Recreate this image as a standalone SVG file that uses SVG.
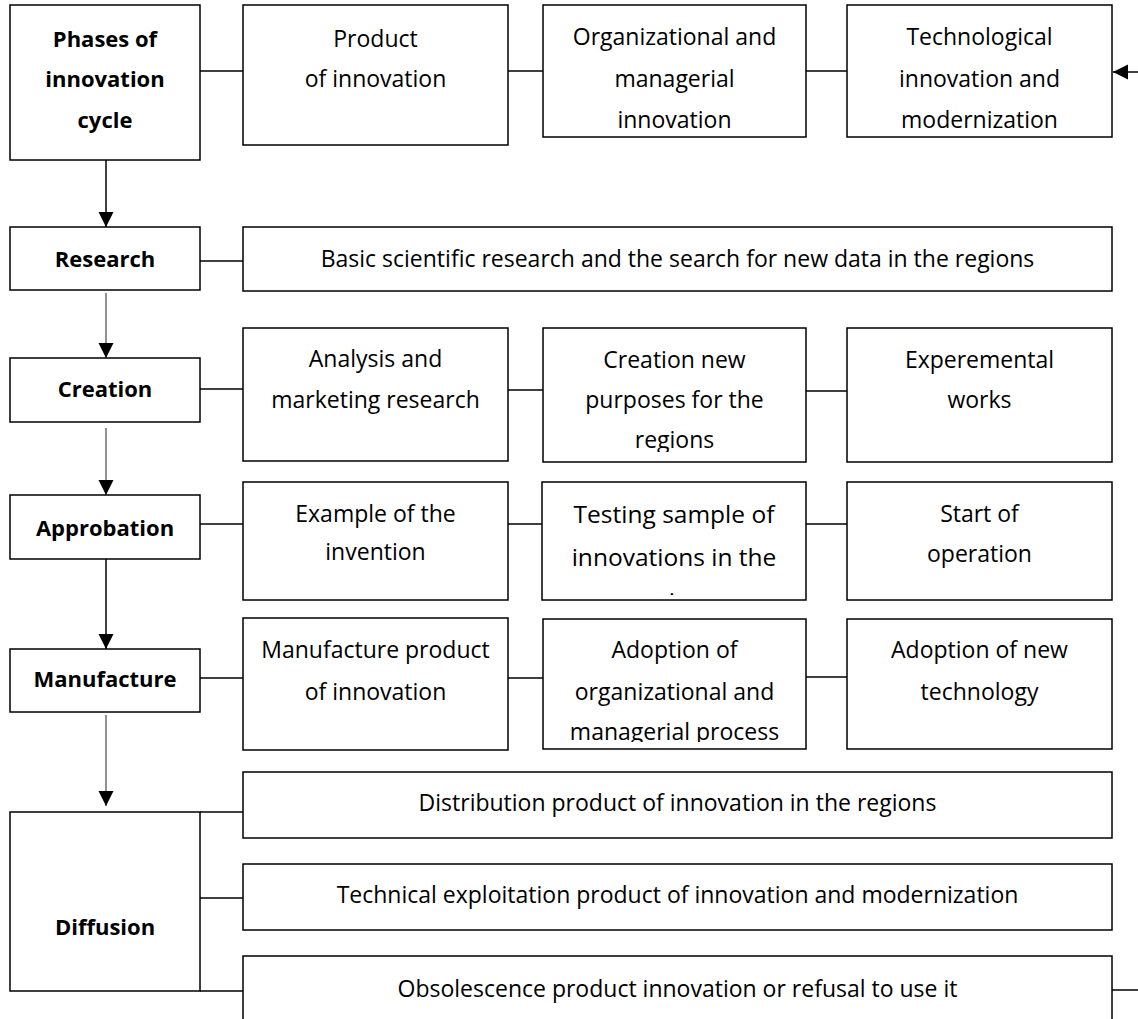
<svg xmlns="http://www.w3.org/2000/svg" width="1138" height="1019" viewBox="0 0 1138 1019">
<style>
.box{fill:#fff;stroke:#000;stroke-width:1.5}
.ln{fill:none;stroke:#000;stroke-width:1.5}
.gr{fill:none;stroke:#6e6e6e;stroke-width:1.5}
text{font-family:"Open Sans","Noto Sans",sans-serif;font-size:23px;fill:#000;text-anchor:middle}
.b{font-weight:bold;font-size:22px}
.big{font-size:24.5px}
</style>
<defs>
<marker id="ah" markerUnits="userSpaceOnUse" markerWidth="16" markerHeight="16" refX="15" refY="7.5" orient="auto">
<path d="M0,0 L15,7.5 L0,15 Z" fill="#000"/>
</marker>
<clipPath id="c1"><rect x="543" y="328" width="263" height="124"/></clipPath>
<clipPath id="c2"><rect x="542" y="482" width="264" height="113"/></clipPath>
<clipPath id="c3"><rect x="543" y="619" width="263" height="123"/></clipPath>
</defs>
<rect width="1138" height="1019" fill="#fff"/>

<g id="connectors">
<line class="ln" x1="200" y1="71" x2="243" y2="71"/>
<line class="ln" x1="508" y1="71" x2="543" y2="71"/>
<line class="ln" x1="806" y1="71" x2="847" y2="71"/>
<line class="ln" x1="1138" y1="72" x2="1113" y2="72" marker-end="url(#ah)"/>
<line class="ln" x1="200" y1="261" x2="243" y2="261"/>
<line class="ln" x1="200" y1="389" x2="243" y2="389"/>
<line class="ln" x1="508" y1="390" x2="543" y2="390"/>
<line class="ln" x1="806" y1="391" x2="847" y2="391"/>
<line class="ln" x1="200" y1="524" x2="243" y2="524"/>
<line class="ln" x1="508" y1="524" x2="542" y2="524"/>
<line class="ln" x1="806" y1="524" x2="847" y2="524"/>
<line class="ln" x1="200" y1="678" x2="243" y2="678"/>
<line class="ln" x1="508" y1="678" x2="543" y2="678"/>
<line class="ln" x1="806" y1="677" x2="847" y2="677"/>
<line class="ln" x1="200" y1="812" x2="243" y2="812"/>
<line class="ln" x1="200" y1="898" x2="243" y2="898"/>
<line class="ln" x1="200" y1="991" x2="243" y2="991"/>
<line class="ln" x1="1112" y1="990" x2="1138" y2="990"/>
<line class="ln" x1="106" y1="160" x2="106" y2="227" marker-end="url(#ah)"/>
<line class="gr" x1="106" y1="293" x2="106" y2="358" marker-end="url(#ah)"/>
<line class="gr" x1="106" y1="428" x2="106" y2="495" marker-end="url(#ah)"/>
<line class="ln" x1="106" y1="559" x2="106" y2="649" marker-end="url(#ah)"/>
<line class="gr" x1="106" y1="715" x2="106" y2="806" marker-end="url(#ah)"/>
</g>

<g id="phases">
<rect class="box" x="10" y="5" width="190" height="155"/>
<text class="b" x="105" y="47">Phases of</text>
<text class="b" x="105" y="87">innovation</text>
<text class="b" x="105" y="128">cycle</text>
</g>
<g id="product">
<rect class="box" x="243" y="5" width="265" height="140"/>
<text x="375.5" y="47">Product</text>
<text x="375.5" y="87">of innovation</text>
</g>
<g id="org">
<rect class="box" x="543" y="5" width="263" height="132"/>
<text x="674.5" y="45">Organizational and</text>
<text x="674.5" y="87">managerial</text>
<text x="674.5" y="128">innovation</text>
</g>
<g id="tech">
<rect class="box" x="847" y="5" width="265" height="132"/>
<text x="979.5" y="45">Technological</text>
<text x="979.5" y="87">innovation and</text>
<text x="979.5" y="128">modernization</text>
</g>

<g id="research">
<rect class="box" x="10" y="227" width="190" height="63"/>
<text class="b" x="105" y="267">Research</text>
</g>
<g id="basic">
<rect class="box" x="243" y="227" width="869" height="64"/>
<text x="677.5" y="267">Basic scientific research and the search for new data in the regions</text>
</g>

<g id="creation">
<rect class="box" x="10" y="358" width="190" height="64"/>
<text class="b" x="105" y="397">Creation</text>
</g>
<g id="analysis">
<rect class="box" x="243" y="328" width="265" height="133"/>
<text x="375.5" y="367">Analysis and</text>
<text x="375.5" y="408">marketing research</text>
</g>
<g id="purposes">
<rect class="box" x="543" y="328" width="263" height="134"/>
<g clip-path="url(#c1)">
<text x="674.5" y="368">Creation new</text>
<text x="674.5" y="408">purposes for the</text>
<text x="674.5" y="448">regions</text>
</g>
</g>
<g id="experemental">
<rect class="box" x="847" y="328" width="265" height="134"/>
<text x="979.5" y="368">Experemental</text>
<text x="979.5" y="408">works</text>
</g>

<g id="approbation">
<rect class="box" x="10" y="495" width="190" height="64"/>
<text class="b" x="105" y="536">Approbation</text>
</g>
<g id="example">
<rect class="box" x="243" y="482" width="265" height="118"/>
<text x="375.5" y="522">Example of the</text>
<text x="375.5" y="560">invention</text>
</g>
<g id="testing">
<rect class="box" x="542" y="482" width="264" height="118"/>
<g clip-path="url(#c2)">
<text class="big" x="674" y="523">Testing sample of</text>
<text class="big" x="674" y="566">innovations in the</text>
<text class="big" x="674" y="610">regions</text>
</g>
</g>
<g id="start">
<rect class="box" x="847" y="482" width="265" height="118"/>
<text x="979.5" y="522">Start of</text>
<text x="979.5" y="562">operation</text>
</g>

<g id="manufacture">
<rect class="box" x="10" y="649" width="190" height="63"/>
<text class="b" x="105" y="687">Manufacture</text>
</g>
<g id="manproduct">
<rect class="box" x="243" y="618" width="265" height="132"/>
<text x="375.5" y="658">Manufacture product</text>
<text x="375.5" y="700">of innovation</text>
</g>
<g id="adoptorg">
<rect class="box" x="543" y="619" width="263" height="130"/>
<g clip-path="url(#c3)">
<text x="674.5" y="658">Adoption of</text>
<text x="674.5" y="700">organizational and</text>
<text x="674.5" y="740">managerial process</text>
</g>
</g>
<g id="adopttech">
<rect class="box" x="847" y="619" width="265" height="130"/>
<text x="979.5" y="658">Adoption of new</text>
<text x="979.5" y="700">technology</text>
</g>

<g id="diffusion">
<rect class="box" x="10" y="812" width="190" height="179"/>
<text class="b" x="105" y="935">Diffusion</text>
</g>
<g id="distribution">
<rect class="box" x="243" y="772" width="869" height="66"/>
<text x="677.5" y="811">Distribution product of innovation in the regions</text>
</g>
<g id="technical">
<rect class="box" x="243" y="864" width="869" height="66"/>
<text x="677.5" y="903">Technical exploitation product of innovation and modernization</text>
</g>
<g id="obsolescence">
<rect class="box" x="243" y="956" width="869" height="80"/>
<text x="677.5" y="997">Obsolescence product innovation or refusal to use it</text>
</g>
</svg>
